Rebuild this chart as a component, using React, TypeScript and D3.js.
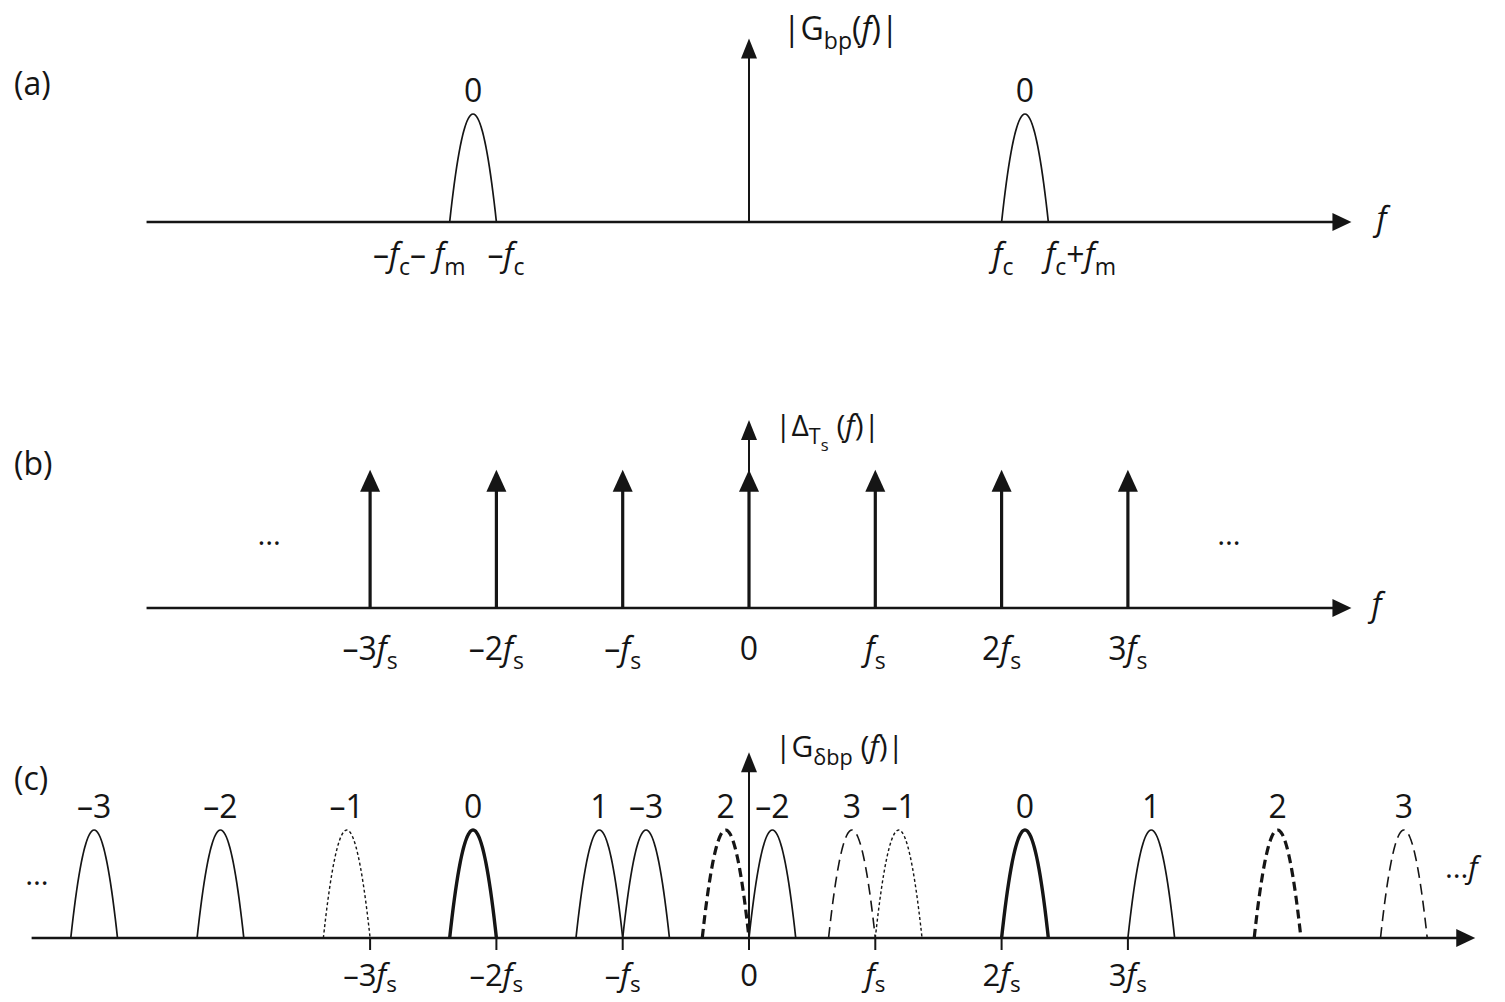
import React, { useEffect, useRef } from 'react'
import * as d3 from 'd3'

// frequencies are in units of fs
const fc = 2.0
const fm = 0.37
const shifts = [-3, -2, -1, 0, 1, 2, 3]
const shiftStyles = ['thin', 'thin', 'dotted', 'thick', 'thin', 'thickDash', 'dash']
const lobeLabels = ['–3', '–2', '–1', '0', '1', '2', '3']
const impulses = [-3, -2, -1, 0, 1, 2, 3]

type Seg = [string, string]
const impulseLabels: Seg[][] = [
  [['–3', ''], ['f', 'i'], ['s', 's']],
  [['–2', ''], ['f', 'i'], ['s', 's']],
  [['–', ''], ['f', 'i'], ['s', 's']],
  [['0', '']],
  [['f', 'i'], ['s', 's']],
  [['2', ''], ['f', 'i'], ['s', 's']],
  [['3', ''], ['f', 'i'], ['s', 's']],
]
const bpTicks = [-fc - fm, -fc, fc, fc + fm]
const bpTickLabels: Seg[][] = [
  [['–', ''], ['f', 'i'], ['c', 's'], ['– ', ''], ['f', 'i'], ['m', 's']],
  [['–', ''], ['f', 'i'], ['c', 's']],
  [['f', 'i'], ['c', 's']],
  [['f', 'i'], ['c', 's'], ['+', ''], ['f', 'i'], ['m', 's']],
]
const bpTickAnchor = ['end', 'start', 'start', 'start']
const bpTickNudge = [16, -9, -9, -3]

const titleA: Seg[] = [['|G', ''], ['bp', 's'], ['(', ''], ['f', 'i'], [')|', '']]
const titleB: Seg[] = [['|Δ', ''], ['T', 's'], ['s', 'ss'], [' (', ''], ['f', 'i'], [')|', '']]
const titleC: Seg[] = [['|G', ''], ['δbp', 's'], [' (', ''], ['f', 'i'], [')|', '']]

const W = 1505
const H = 1002
const INK = '#151515'
const FONT = '"Open Sans", "DejaVu Sans", sans-serif'

const styleMap: Record<string, { w: number; dash: string | null }> = {
  thin: { w: 1.7, dash: null },
  dotted: { w: 1.4, dash: '3,2.5' },
  thick: { w: 3.4, dash: null },
  thickDash: { w: 3.2, dash: '9,5' },
  dash: { w: 1.6, dash: '11,6' },
}

export default function App() {
  const ref = useRef<SVGSVGElement>(null)

  useEffect(() => {
    const svg = d3.select(ref.current)
    svg.selectAll('*').remove()

    const x = d3.scaleLinear().domain([0, 1]).range([749, 875.3])

    const rich = (g: any, px: number, py: number, segs: Seg[], size: number, anchor = 'middle', subDrop = 0.28) => {
      const t = g.append('text')
        .attr('x', px).attr('y', py)
        .attr('font-size', size)
        .attr('text-anchor', anchor)
        .attr('fill', INK)
        .attr('font-family', FONT)
      let cur = 0
      segs.forEach(([s, k]) => {
        const target = k === 's' ? size * subDrop : k === 'ss' ? size * 0.5 : 0
        t.append('tspan').text(s)
          .attr('dy', target - cur)
          .attr('font-size', k === 's' ? size * 0.72 : k === 'ss' ? size * 0.55 : size)
          .attr('font-style', k === 'i' ? 'italic' : 'normal')
        cur = target
      })
    }

    const arrow = (g: any, tx: number, ty: number, dir: string, len: number, half: number) => {
      const p = d3.path()
      p.moveTo(tx, ty)
      if (dir === 'up') {
        p.lineTo(tx - half, ty + len)
        p.lineTo(tx + half, ty + len)
      } else {
        p.lineTo(tx - len, ty - half)
        p.lineTo(tx - len, ty + half)
      }
      p.closePath()
      g.append('path').attr('d', p.toString()).attr('fill', INK)
    }

    const lobeT = d3.range(0, 1.0001, 0.025)
    const lobe = (g: any, y: any, start: number, style: string) => {
      const st = styleMap[style]
      const line = d3.line<number>()
        .x(t => x(start + t * fm))
        .y(t => y(1 - (2 * t - 1) ** 2))
        .curve(d3.curveCatmullRom)
      g.append('path')
        .attr('d', line(lobeT))
        .attr('fill', 'none')
        .attr('stroke', INK)
        .attr('stroke-width', st.w)
        .attr('stroke-dasharray', st.dash)
    }

    const hAxis = (g: any, y0: number, from: number, to: number) => {
      g.append('line')
        .attr('x1', x(from)).attr('x2', x(to) - 10)
        .attr('y1', y0).attr('y2', y0)
        .attr('stroke', INK).attr('stroke-width', 2.6)
      arrow(g, x(to), y0, 'right', 19, 9)
    }
    const vAxis = (g: any, y: any, top: number) => {
      g.append('line')
        .attr('x1', x(0)).attr('x2', x(0))
        .attr('y1', y(0)).attr('y2', y(top) + 10)
        .attr('stroke', INK).attr('stroke-width', 2)
      arrow(g, x(0), y(top), 'up', 20, 8)
    }

    svg.append('rect').attr('width', W).attr('height', H).attr('fill', '#fff')

    // (a) band-pass spectrum
    const ga = svg.append('g')
    const ya = d3.scaleLinear().domain([0, 1]).range([222, 114])
    hAxis(ga, ya(0), -4.77, 4.77)
    vAxis(ga, ya, 1.70)
    ;[-fc - fm, fc].forEach(s => {
      lobe(ga, ya, s, 'thin')
      rich(ga, x(s + fm / 2), ya(1) - 12, [['0', '']], 32)
    })
    bpTicks.forEach((v, i) => rich(ga, x(v) + bpTickNudge[i], 266, bpTickLabels[i], 32, bpTickAnchor[i]))
    rich(ga, 783, 40, titleA, 32, 'start')
    rich(ga, x(4.77) + 30, 230, [['f', 'i']], 32, 'middle')
    rich(ga, 14, 95, [['(a)', '']], 32, 'start')

    // (b) impulse train
    const gb = svg.append('g')
    const yb = d3.scaleLinear().domain([0, 1]).range([608, 500])
    hAxis(gb, yb(0), -4.77, 4.77)
    vAxis(gb, yb, 1.74)
    impulses.forEach((n, i) => {
      gb.append('line')
        .attr('x1', x(n)).attr('x2', x(n))
        .attr('y1', yb(0)).attr('y2', yb(1.28) + 12)
        .attr('stroke', INK).attr('stroke-width', 3.2)
      arrow(gb, x(n), yb(1.28), 'up', 22, 10)
      rich(gb, x(n), 660, impulseLabels[i], 32)
    })
    rich(gb, x(-3.8), 545, [['…', '']], 30)
    rich(gb, x(3.8), 545, [['…', '']], 30)
    rich(gb, x(4.77) + 25, 616, [['f', 'i']], 32, 'middle')
    rich(gb, 775, 436, titleB, 30, 'start')
    rich(gb, 14, 475, [['(b)', '']], 32, 'start')

    // (c) sampled band-pass spectrum
    const gc = svg.append('g')
    const yc = d3.scaleLinear().domain([0, 1]).range([938, 830])
    hAxis(gc, yc(0), -5.68, 5.75)
    vAxis(gc, yc, 1.72)
    impulses.forEach((n, i) => {
      gc.append('line')
        .attr('x1', x(n)).attr('x2', x(n))
        .attr('y1', yc(0)).attr('y2', yc(0) + 12)
        .attr('stroke', INK).attr('stroke-width', 2)
      rich(gc, x(n), 986, impulseLabels[i], 31, 'middle', 0.2)
    })
    shifts.forEach((n, i) => {
      ;[-fc - fm + n, fc + n].forEach(s => {
        lobe(gc, yc, s, shiftStyles[i])
        rich(gc, x(s + fm / 2), yc(1) - 12, [[lobeLabels[i], '']], 32)
      })
    })
    rich(gc, 37, 885, [['…', '']], 30)
    rich(gc, 1445, 878, [['…', ''], ['f', 'i']], 30, 'start')
    rich(gc, 775, 757, titleC, 30, 'start')
    rich(gc, 14, 790, [['(c)', '']], 32, 'start')
  }, [])

  return (
    <svg
      ref={ref}
      width={W}
      height={H}
      style={{ position: 'absolute', left: 0, top: 0, display: 'block' }}
    />
  )
}
